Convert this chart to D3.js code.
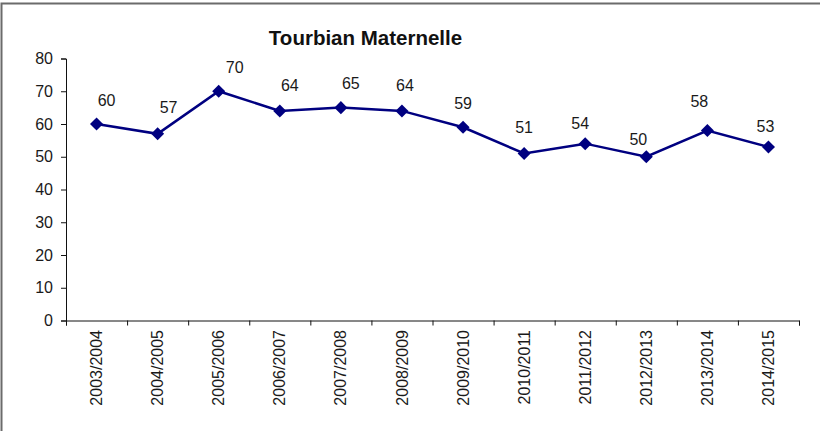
<!DOCTYPE html>
<html>
<head>
<meta charset="utf-8">
<script src="https://cdn.jsdelivr.net/npm/d3@7"></script>
<style>
  body { margin: 0; background: #fff; }
  text { font-family: "Liberation Sans", Arial, sans-serif; }
</style>
</head>
<body>
<div id="chart"></div>
<script>
const seasons = ["2003/2004", "2004/2005", "2005/2006", "2006/2007", "2007/2008", "2008/2009",
  "2009/2010", "2010/2011", "2011/2012", "2012/2013", "2013/2014", "2014/2015"];
const pupils = [60, 57, 70, 64, 65, 64, 59, 51, 54, 50, 58, 53];
const yTicks = [0, 10, 20, 30, 40, 50, 60, 70, 80];

// hand-placed value labels in the original (offset from marker, px)
const labelDx = [10, 11, 16, 10, 10, 3, 0, 0, -5, -8, -8, -3];
const labelDy = [-18, -21, -18, -20, -19, -20, -18, -20, -15, -12, -24, -15];

const width = 820, height = 431;
const plot = { left: 66, right: 799, top: 58.5, bottom: 320.5 };

const svg = d3.select("#chart").append("svg")
  .attr("width", width)
  .attr("height", height);

// outer frame
svg.append("rect")
  .attr("x", 1.5).attr("y", 3.5)
  .attr("width", width + 10).attr("height", height + 10)
  .attr("fill", "none")
  .attr("stroke", "#6b6b6b")
  .attr("stroke-width", 2);

svg.append("text")
  .attr("x", 365.5).attr("y", 45)
  .attr("text-anchor", "middle")
  .attr("font-size", 20.5)
  .attr("font-weight", "bold")
  .attr("fill", "#111")
  .text("Tourbian Maternelle");

const x = d3.scaleBand().domain(seasons).range([plot.left, plot.right]);
const xEdges = d3.scaleLinear().domain([0, seasons.length]).range([plot.left, plot.right]);
const y = d3.scaleLinear().domain([0, 80]).range([plot.bottom, plot.top]);

// y axis
const yAxis = svg.append("g")
  .attr("transform", `translate(${plot.left},0)`)
  .call(d3.axisLeft(y).tickValues(yTicks).tickSize(5).tickPadding(8));
yAxis.selectAll("text").attr("font-size", 16).attr("fill", "#1a1a1a").attr("font-family", null);

// x axis: ticks at band edges
svg.append("g")
  .attr("transform", `translate(0,${plot.bottom})`)
  .call(d3.axisBottom(xEdges).ticks(seasons.length).tickFormat("").tickSize(5).tickSizeOuter(5));

const xAxis = svg.append("g")
  .attr("transform", `translate(0,${plot.bottom})`)
  .call(d3.axisBottom(x).tickSize(0).tickSizeOuter(0));
xAxis.select(".domain").remove();
xAxis.selectAll("text")
  .attr("transform", "rotate(-90)")
  .attr("text-anchor", "end")
  .attr("x", -9.5)
  .attr("y", 0)
  .attr("dy", "0.35em")
  .attr("font-size", 16)
  .attr("fill", "#1a1a1a")
  .attr("font-family", null);

svg.selectAll(".domain, .tick line").attr("stroke", "#111");

const cx = d => x(d) + x.bandwidth() / 2;

svg.append("path")
  .datum(pupils)
  .attr("fill", "none")
  .attr("stroke", "#000080")
  .attr("stroke-width", 2.5)
  .attr("d", d3.line().x((d, i) => cx(seasons[i])).y(d => y(d)));

svg.selectAll("path.marker")
  .data(pupils)
  .join("path")
  .attr("class", "marker")
  .attr("transform", (d, i) => `translate(${cx(seasons[i])},${y(d)}) rotate(45)`)
  .attr("d", d3.symbol().type(d3.symbolSquare).size(85))
  .attr("fill", "#000080");

svg.selectAll("text.value")
  .data(pupils)
  .join("text")
  .attr("class", "value")
  .attr("x", (d, i) => cx(seasons[i]) + labelDx[i])
  .attr("y", (d, i) => y(d) + labelDy[i])
  .attr("text-anchor", "middle")
  .attr("font-size", 16)
  .attr("fill", "#1a1a1a")
  .text(d => d);
</script>
</body>
</html>
